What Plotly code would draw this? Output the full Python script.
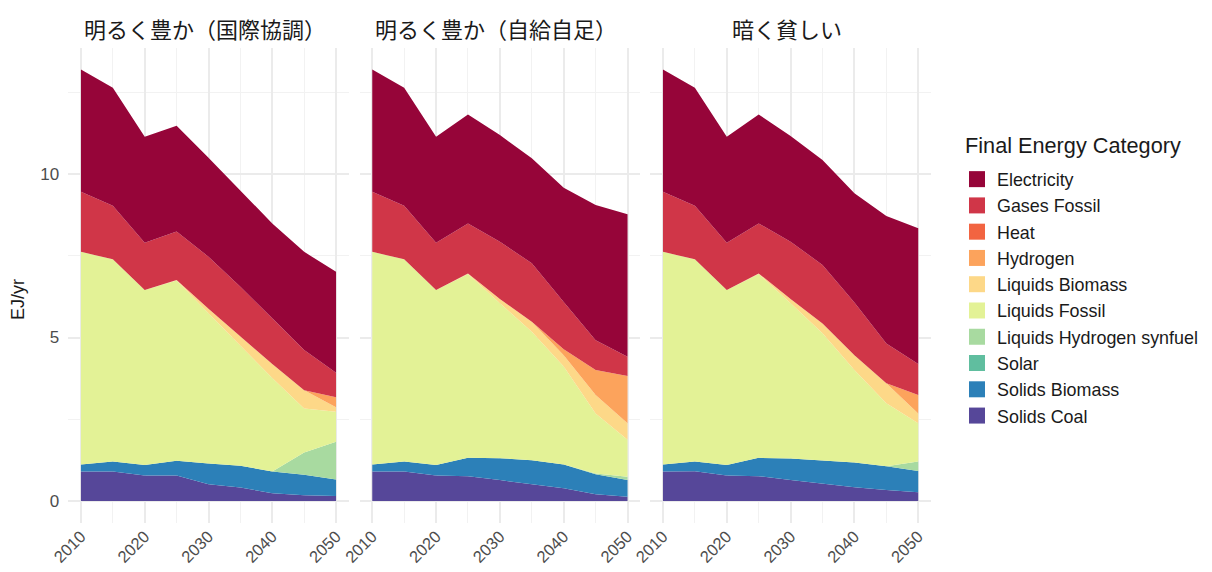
import plotly.graph_objects as go

years = [2010, 2015, 2020, 2025, 2030, 2035, 2040, 2045, 2050]

categories = ["Electricity", "Gases Fossil", "Heat", "Hydrogen", "Liquids Biomass",
              "Liquids Fossil", "Liquids Hydrogen synfuel", "Solar", "Solids Biomass", "Solids Coal"]
colors = ["#960539", "#D03648", "#F26441", "#FCA35C", "#FDD888",
          "#E3F296", "#A8DAA0", "#60BE9F", "#2C80B8", "#564799"]

scenarios = ["明るく豊か（国際協調）", "明るく豊か（自給自足）", "暗く貧しい"]

# Scenario 1: 明るく豊か（国際協調）
elec_1 = [3.74, 3.61, 3.24, 3.24, 3.03, 2.94, 2.90, 3.00, 3.09]
gas_1 = [1.84, 1.64, 1.45, 1.48, 1.59, 1.53, 1.40, 1.23, 0.75]
heat_1 = [0, 0, 0, 0, 0, 0, 0, 0, 0]
h2_1 = [0, 0, 0, 0, 0, 0, 0, 0, 0.30]
lbio_1 = [0, 0, 0, 0.02, 0.14, 0.28, 0.43, 0.56, 0.14]
lfos_1 = [6.50, 6.18, 5.35, 5.51, 4.59, 3.66, 2.86, 1.35, 0.92]
lsyn_1 = [0, 0, 0, 0, 0, 0, 0, 0.68, 1.15]
solar_1 = [0, 0, 0, 0, 0, 0, 0, 0, 0]
sbio_1 = [0.22, 0.31, 0.32, 0.45, 0.64, 0.67, 0.66, 0.62, 0.51]
coal_1 = [0.90, 0.90, 0.78, 0.78, 0.51, 0.41, 0.24, 0.18, 0.15]

# Scenario 2: 明るく豊か（自給自足）
elec_2 = [3.74, 3.61, 3.24, 3.33, 3.26, 3.21, 3.49, 4.13, 4.36]
gas_2 = [1.84, 1.64, 1.45, 1.53, 1.75, 1.79, 1.45, 0.91, 0.59]
heat_2 = [0, 0, 0, 0, 0, 0, 0, 0, 0]
h2_2 = [0, 0, 0, 0, 0, 0, 0.18, 0.77, 1.44]
lbio_2 = [0, 0, 0, 0.02, 0.13, 0.30, 0.35, 0.56, 0.51]
lfos_2 = [6.50, 6.18, 5.35, 5.62, 4.74, 3.93, 2.99, 1.84, 1.13]
lsyn_2 = [0, 0, 0, 0, 0, 0, 0, 0.02, 0.10]
solar_2 = [0, 0, 0, 0, 0, 0, 0, 0, 0]
sbio_2 = [0.22, 0.31, 0.32, 0.56, 0.67, 0.73, 0.73, 0.61, 0.51]
coal_2 = [0.90, 0.90, 0.78, 0.76, 0.64, 0.52, 0.39, 0.21, 0.13]

# Scenario 3: 暗く貧しい
elec_3 = [3.74, 3.61, 3.24, 3.33, 3.23, 3.21, 3.34, 3.90, 4.15]
gas_3 = [1.84, 1.64, 1.45, 1.53, 1.75, 1.79, 1.61, 1.22, 0.95]
heat_3 = [0, 0, 0, 0, 0, 0, 0, 0, 0]
h2_3 = [0, 0, 0, 0, 0, 0, 0, 0, 0.56]
lbio_3 = [0, 0, 0, 0.02, 0.13, 0.30, 0.45, 0.61, 0.30]
lfos_3 = [6.50, 6.18, 5.35, 5.62, 4.75, 3.89, 2.83, 1.93, 1.17]
lsyn_3 = [0, 0, 0, 0, 0, 0, 0, 0, 0.29]
solar_3 = [0, 0, 0, 0, 0, 0, 0, 0, 0]
sbio_3 = [0.22, 0.30, 0.32, 0.56, 0.66, 0.72, 0.76, 0.72, 0.65]
coal_3 = [0.90, 0.91, 0.78, 0.76, 0.64, 0.52, 0.42, 0.34, 0.27]

panel_series = [
    [elec_1, gas_1, heat_1, h2_1, lbio_1, lfos_1, lsyn_1, solar_1, sbio_1, coal_1],
    [elec_2, gas_2, heat_2, h2_2, lbio_2, lfos_2, lsyn_2, solar_2, sbio_2, coal_2],
    [elec_3, gas_3, heat_3, h2_3, lbio_3, lfos_3, lsyn_3, solar_3, sbio_3, coal_3],
]

# page body has an 8px margin, so the figure starts at (8, 8) of the window
OFF = 8
W, H = 1212 - OFF, 572 - OFF
FONT = "Liberation Sans, Arial, Noto Sans CJK JP, sans-serif"
CJK = "Noto Sans CJK JP, Liberation Sans, sans-serif"


def px(x):
    return (x - OFF) / W


def py(y):
    return (H - (y - OFF)) / H


fig = go.Figure()

for p, series in enumerate(panel_series):
    xa = "x" if p == 0 else f"x{p+1}"
    ya = "y" if p == 0 else f"y{p+1}"
    # stack from bottom (Solids Coal) to top (Electricity)
    for i in reversed(range(len(categories))):
        fig.add_trace(go.Scatter(
            x=years, y=series[i], name=categories[i],
            mode="lines", line=dict(width=0, color=colors[i]),
            fillcolor=colors[i], stackgroup=f"s{p}",
            xaxis=xa, yaxis=ya, showlegend=False,
            hovertemplate=categories[i] + ": %{y}<extra></extra>",
        ))

# legend entries
for i, cat in enumerate(categories):
    fig.add_trace(go.Scatter(
        x=[None], y=[None], mode="markers", name=cat,
        marker=dict(symbol="square", size=24, color=colors[i]),
        legendrank=i + 1, showlegend=True,
    ))

x_domains = [(68.2, 348.8), (359.5, 640.3), (650.2, 931.0)]
y_dom = [py(522.6), py(47.8)]

axis_common_x = dict(
    range=[2008, 2052], tick0=2010, dtick=10, showgrid=True, gridcolor="#EBEBEB",
    gridwidth=1.6, zeroline=False, showline=False, ticks="", automargin=False,
    tickangle=-45, tickfont=dict(family=FONT, size=16.5, color="#4D4D4D"),
    minor=dict(tick0=2010, dtick=5, showgrid=True, gridcolor="#F2F2F2", gridwidth=0.9),
)
axis_common_y = dict(
    range=[-0.66, 13.86], tick0=0, dtick=5, showgrid=True, gridcolor="#EBEBEB",
    gridwidth=1.6, zeroline=False, showline=False, ticks="", automargin=False,
    tickfont=dict(family=FONT, size=17, color="#4D4D4D"),
    minor=dict(tick0=0, dtick=2.5, showgrid=True, gridcolor="#F2F2F2", gridwidth=0.9),
    domain=y_dom,
)

layout = dict(
    width=W, height=H, margin=dict(l=0, r=0, t=0, b=0, autoexpand=False),
    paper_bgcolor="white", plot_bgcolor="white",
    font=dict(family=FONT, size=17, color="#1A1A1A"),
    legend=dict(
        x=px(957), y=py(161), xanchor="left", yanchor="top",
        traceorder="normal", bgcolor="rgba(0,0,0,0)",
        font=dict(family=FONT, size=17.9, color="#1A1A1A"),
        itemsizing="trace",
    ),
    showlegend=True,
)

annotations = []
for p in range(3):
    xs = "" if p == 0 else str(p + 1)
    xd = x_domains[p]
    layout[f"xaxis{xs}"] = dict(axis_common_x, domain=[px(xd[0]), px(xd[1])], anchor=f"y{xs}")
    ydict = dict(axis_common_y, anchor=f"x{xs}")
    if p > 0:
        ydict["showticklabels"] = False
        ydict["matches"] = "y"
    else:
        ydict["ticklabelstandoff"] = 8
    layout[f"yaxis{xs}"] = ydict
    annotations.append(dict(
        text=scenarios[p], x=px((xd[0] + xd[1]) / 2 - 4), y=py(28),
        xref="paper", yref="paper", showarrow=False, xanchor="center", yanchor="middle",
        font=dict(family=CJK, size=22, color="#1A1A1A"),
    ))

# legend title
annotations.append(dict(
    text="Final Energy Category", x=px(963), y=py(146), xref="paper", yref="paper",
    showarrow=False, xanchor="left", yanchor="middle",
    font=dict(family=FONT, size=21.7, color="#1A1A1A"),
))
# y-axis title
annotations.append(dict(
    text="EJ/yr", x=px(18), y=py(300), xref="paper", yref="paper",
    showarrow=False, textangle=-90, xanchor="center", yanchor="middle",
    font=dict(family=FONT, size=18, color="#1A1A1A"),
))
layout["annotations"] = annotations

fig.update_layout(**layout)
fig.write_html("out.html")
